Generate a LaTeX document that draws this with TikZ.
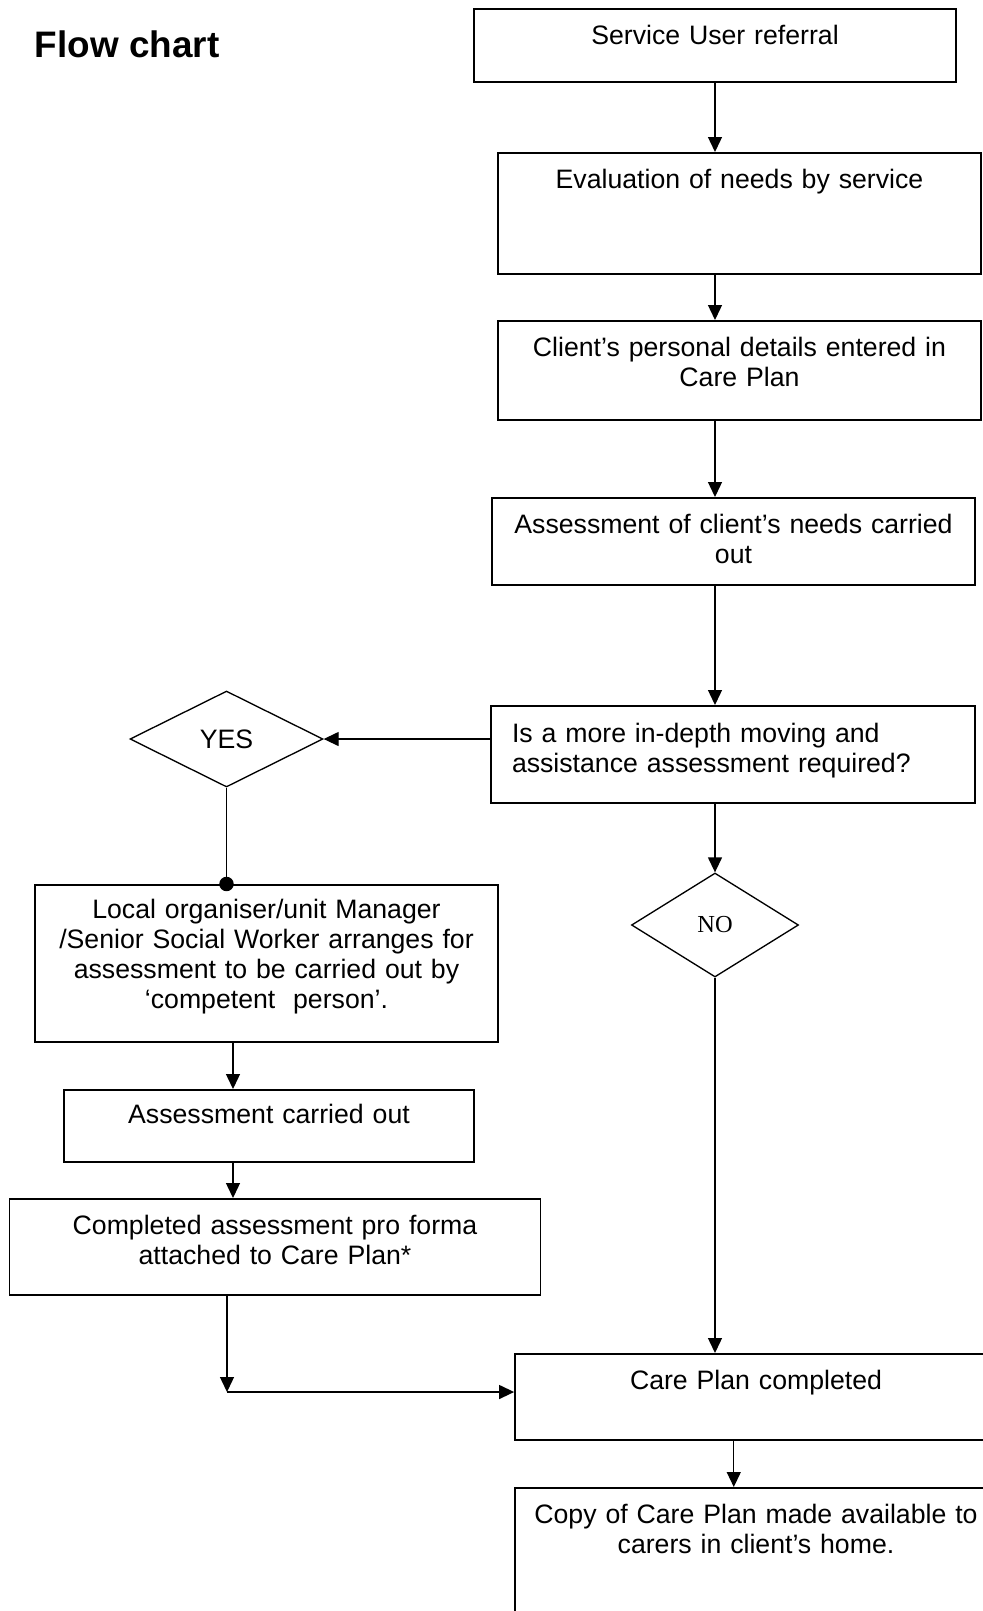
\documentclass[tikz,border=0pt]{standalone}
\usepackage{fontspec}
\setmainfont{Liberation Sans}
\newfontfamily\timesfont{Liberation Serif}
\usetikzlibrary{positioning, shapes.geometric, arrows.meta}

\tikzset{
  stage/.style={draw, line width=0.8pt, anchor=north, align=center, inner xsep=4pt, inner ysep=0pt,
    text height=15.8pt, font=\fontsize{12}{13.5}\selectfont},
  choice/.style={draw, diamond, line width=0.6pt, inner sep=0pt},
  flow/.style={line width=0.6pt, -{Triangle[length=6.75pt, width=6.3pt]}}
}

\begin{document}
\begin{tikzpicture}[x=0.45pt, y=-0.45pt]
        \useasboundingbox (0,0) rectangle (983,1611);
        \clip (0,0) rectangle (983,1611);

        \node[anchor=base west, font=\fontsize{16.6}{19}\selectfont\bfseries] (title) at (27,57) {Flow chart};

        % main column
        \node[stage, minimum width=216.9pt, text width=208.9pt, text depth=17pt] (refer) at (715,8) {Service User referral};
        \node[stage, minimum width=217.35pt, text width=209.35pt, text depth=38.65pt] (evaluate) at (739.5,152) {Evaluation of needs by service};
        \node[stage, minimum width=217.35pt, text width=209.35pt, text depth=28.75pt] (details) at (739.5,320) {Client’s personal details entered in\\ Care Plan};
        \node[stage, minimum width=217.35pt, text width=209.35pt, text depth=23.35pt] (assess) at (733.5,497) {Assessment of client’s needs carried\\ out};
        \node[stage, align=left, inner xsep=9.45pt, minimum width=217.8pt, text width=198.9pt, text height=16.6pt, text depth=27.05pt] (query) at (733,705) {Is a more in-depth moving and\\ assistance assessment required?};

        \node[choice, minimum width=86.85pt, minimum height=43.2pt, font=\fontsize{12}{13.5}\selectfont] (yes) at (226.5,739) {YES};
        \node[choice, minimum width=75.15pt, minimum height=46.8pt, font=\timesfont\fontsize{11}{13}\selectfont] (no) at (715,925) {NO};

        % left branch
        \node[stage, minimum width=208.35pt, text width=200.35pt, text height=15.3pt, text depth=55.35pt] (arrange) at (266.5,884) {Local organiser/unit Manager\\ /Senior Social Worker arranges for\\ assessment to be carried out by\\ ‘competent~ person’.};
        \node[stage, minimum width=184.5pt, text width=176.5pt, text height=15.3pt, text depth=17.1pt] (carried) at (269,1089) {Assessment carried out};
        \node[stage, minimum width=238.95pt, text width=230.95pt, text depth=27.4pt] (proforma) at (275,1198) {Completed assessment pro forma\\ attached to Care Plan*};

        \node[stage, minimum width=216.9pt, text width=208.9pt, text depth=22.9pt] (careplan) at (756,1353) {Care Plan completed};
        \node[stage, minimum width=216.9pt, text width=208.9pt, text depth=56.2pt] (copy) at (756,1487) {Copy of Care Plan made available to\\ carers in client’s home.};

        \coordinate (lane) at (233,1060);
        \coordinate (merge) at (227,1392);

        % connectors
        \foreach \a/\b in {refer/evaluate, evaluate/details, details/assess, assess/query}
          \draw[flow] (\a.south -| refer.south) -- (\b.north -| refer.south);

        \draw[flow] (query.west |- yes.east) -- (yes.east);
        \draw[flow] (query.south -| no.north) -- (no.north);
        \draw[line width=0.6pt, -{Circle[length=6.5pt]}, shorten >=-3.25pt] (yes.south) -- (yes.south |- arrange.north);

        \draw[flow] (lane |- arrange.south) -- (lane |- carried.north);
        \draw[flow] (lane |- carried.south) -- (lane |- proforma.north);
        \draw[flow] (merge |- proforma.south) -- (merge);
        \draw[flow] (merge) -- (careplan.west |- merge);

        \draw[flow] (no.south) -- (no.south |- careplan.north);
        \draw[flow] ([xshift=-10pt]careplan.south) -- ([xshift=-10pt]copy.north);
      \end{tikzpicture}
\end{document}
